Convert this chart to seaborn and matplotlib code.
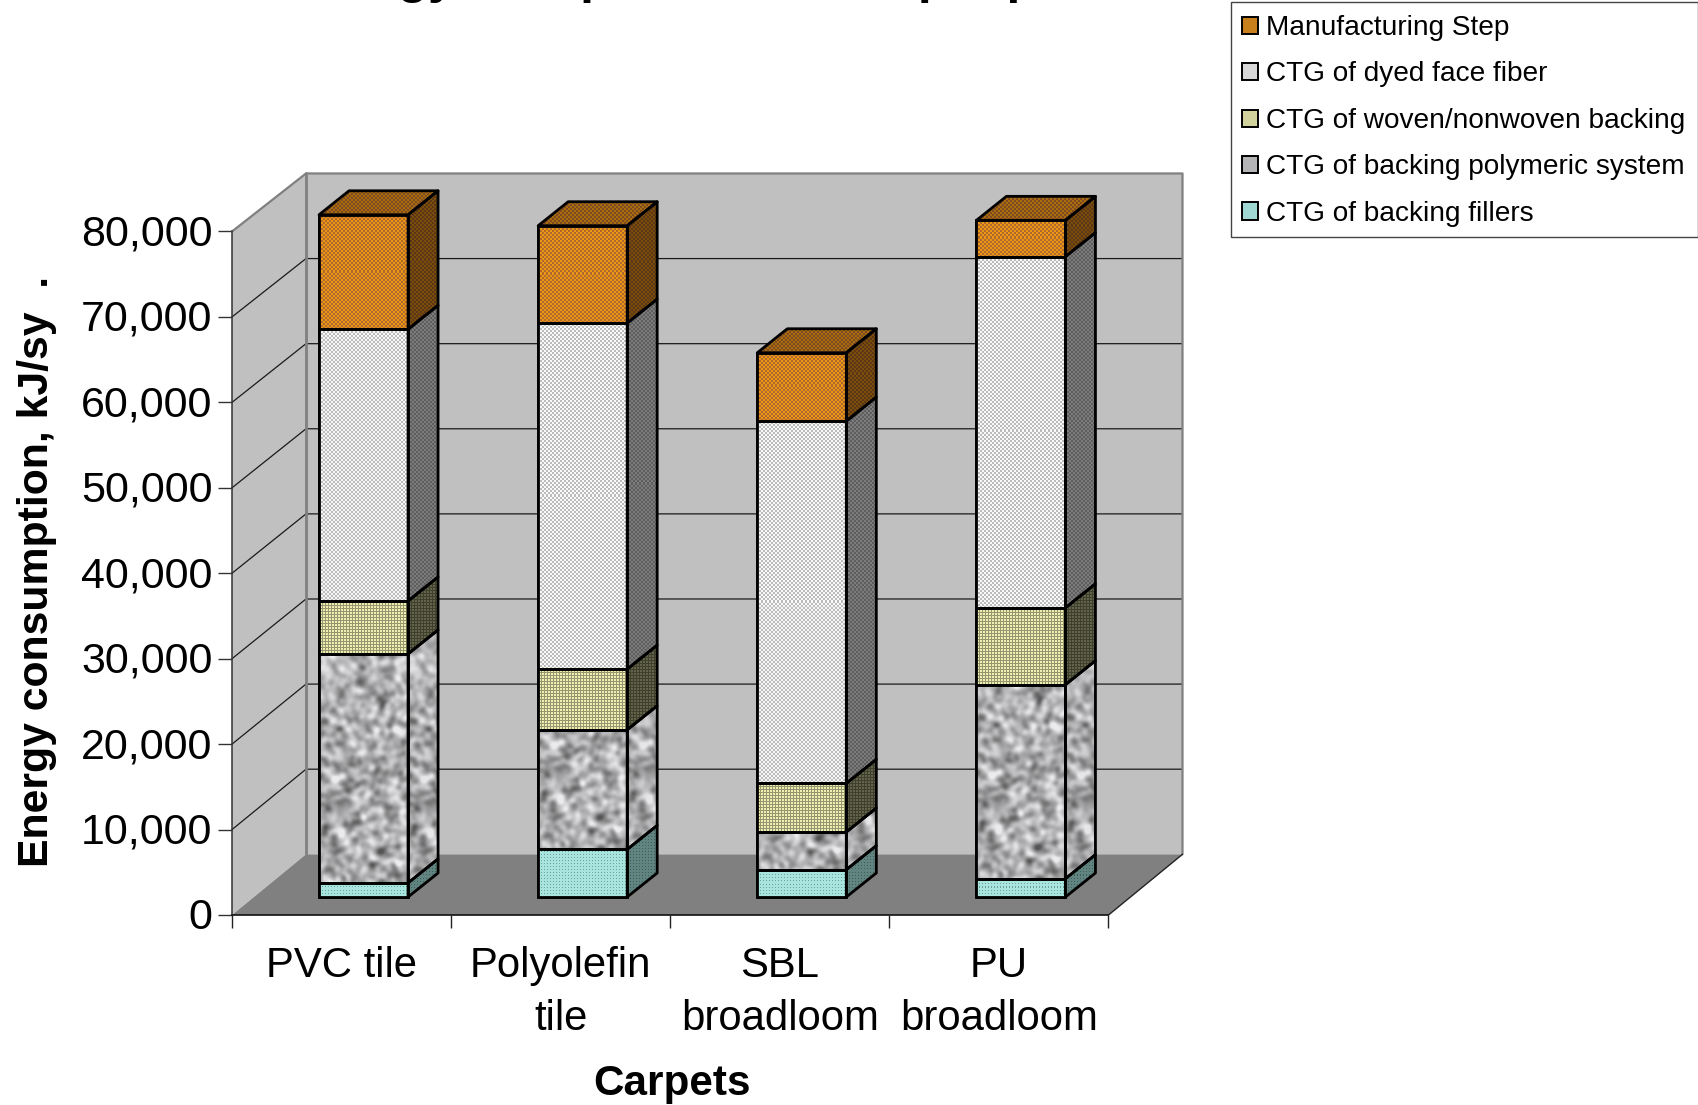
import numpy as np
import pandas as pd
import matplotlib
matplotlib.use("Agg")
import matplotlib.pyplot as plt
from matplotlib.patches import Polygon, Patch, Rectangle
from matplotlib.transforms import ScaledTranslation
import seaborn as sns

# ---------- data ----------
categories = ["PVC tile", "Polyolefin\ntile", "SBL\nbroadloom", "PU\nbroadloom"]
backing_fillers = [1650, 5570, 3200, 2150]
backing_polymeric = [26800, 14000, 4400, 22700]
woven_backing = [6200, 7100, 5700, 9000]
dyed_face_fiber = [31800, 40500, 42400, 41100]
manufacturing = [13400, 11400, 8000, 4250]
series_names = ["CTG of backing fillers", "CTG of backing polymeric system",
                "CTG of woven/nonwoven backing", "CTG of dyed face fiber",
                "Manufacturing Step"]
series_values = [backing_fillers, backing_polymeric, woven_backing,
                 dyed_face_fiber, manufacturing]
y_ticks = [0, 10000, 20000, 30000, 40000, 50000, 60000, 70000, 80000]

# ---------- layout constants (pixels of the reference) ----------
W, H = 1699, 1105
AX_L, AX_R, AX_T, AX_B = 232, 1108.5, 231.5, 915
PX_X = (AX_R - AX_L) / 4.0
PX_Y = (AX_B - AX_T) / 80000.0
WALL_DX = 74 / PX_X
WALL_Y0, WALL_SCALE = 60.7 / PX_Y, 0.9961
BAR_DX, BAR_DY = 30 / PX_X, 24 / PX_Y
FLOOR = 18 / PX_Y
BAR_W = 89 / PX_X
BAR_SHIFT = 22 / PX_X
EDGE = 2.0


def back(v):
    return WALL_Y0 + v * WALL_SCALE


sns.set_theme(style="white")
plt.rcParams["font.family"] = ["Liberation Sans", "DejaVu Sans"]
fig = plt.figure(figsize=(W / 100, H / 100), dpi=100, facecolor="white")
ax = fig.add_axes([AX_L / W, 1 - AX_B / H, (AX_R - AX_L) / W, (AX_B - AX_T) / H])
ax.patch.set_alpha(0)

df = pd.DataFrame({"cat": categories})


# ---------- textures ----------
def blur_noise(h, w, sigma):
    y, x = np.mgrid[:h, :w]
    n = np.sin(x * 12.9898 + y * 78.233 + (x * y) * 0.0137) * 43758.5453
    n = n - np.floor(n) - 0.5
    fy = np.fft.fftfreq(h)[:, None]
    fx = np.fft.fftfreq(w)[None, :]
    out = np.fft.ifft2(np.fft.fft2(n) * np.exp(-2 * (np.pi * sigma) ** 2 * (fx ** 2 + fy ** 2))).real
    return (out - out.mean()) / (out.std() + 1e-9)


def texture(kind, h, w, shade):
    h, w = max(h, 2), max(w, 2)
    y, x = np.mgrid[:h, :w]
    chk = ((x // 2 + y // 2) % 2)[..., None]
    if kind == "orange":
        a, b = np.array([235, 150, 20]), np.array([175, 105, 45])
        img = a * chk + b * (1 - chk)
    elif kind == "dyed":
        a, b = np.array([248, 248, 248]), np.array([188, 188, 188])
        img = a * chk + b * (1 - chk)
    elif kind == "woven":
        grid = (((x % 3) == 0) | ((y % 3) == 0))[..., None]
        a, b = np.array([238, 238, 178]), np.array([150, 150, 110])
        img = b * grid + a * (1 - grid)
    elif kind == "granite":
        z = blur_noise(h, w, 2.6)
        g = np.clip(174 + 27 * z, 85, 235)
        img = np.dstack([g, g, g * 1.01])
    else:  # teal
        dot = (((x % 3) == 0) & ((y % 3) == 0))[..., None]
        a, b = np.array([170, 228, 222]), np.array([105, 165, 160])
        img = b * dot + a * (1 - dot)
    return np.clip(img * shade, 0, 255).astype(np.uint8)


def textured(points, kind, shade, z):
    pts = np.array(points)
    x0, y0 = pts.min(axis=0)
    x1, y1 = pts.max(axis=0)
    w = int(round((x1 - x0) * PX_X))
    h = int(round((y1 - y0) * PX_Y))
    tex = texture(kind, h, w, shade)
    im = ax.imshow(tex, extent=(x0, x1, y0, y1), origin="lower", aspect="auto",
                   interpolation="nearest", zorder=z)
    poly = Polygon(points, closed=True, transform=ax.transData)
    im.set_clip_path(poly)
    im.set_clip_box(fig.bbox)
    ax.add_patch(Polygon(points, closed=True, fill=False, edgecolor="black",
                         linewidth=EDGE, clip_on=False, zorder=z + 0.5, joinstyle="round"))


# ---------- chart walls ----------
xl, xr = -0.5, 3.5
ax.add_patch(Polygon([(xl, 0), (xl + WALL_DX, back(0)), (xl + WALL_DX, back(80000)), (xl, 80000)],
                     closed=True, facecolor="#c0c0c0", edgecolor="none", clip_on=False, zorder=0.5))
ax.add_patch(Rectangle((xl + WALL_DX, back(0)), xr - xl, back(80000) - back(0), facecolor="#c0c0c0",
                       edgecolor="none", clip_on=False, zorder=0.5))
ax.add_patch(Polygon([(xl, 0), (xr, 0), (xr + WALL_DX, back(0)), (xl + WALL_DX, back(0))],
                     closed=True, facecolor="#808080", edgecolor="none", clip_on=False, zorder=0.6))
for v in y_ticks[1:-1]:
    ax.plot([xl, xl + WALL_DX, xr + WALL_DX], [v, back(v), back(v)], color="#1a1a1a",
            lw=0.9, clip_on=False, zorder=0.8)
# wall borders
ax.plot([xl, xl + WALL_DX, xr + WALL_DX, xr + WALL_DX],
        [80000, back(80000), back(80000), back(0)], color="#808080", lw=1.6, clip_on=False, zorder=0.9)
ax.plot([xl + WALL_DX, xl + WALL_DX], [back(0), back(80000)], color="#808080", lw=2.0,
        clip_on=False, zorder=0.9)
ax.plot([xr, xr + WALL_DX], [0, back(0)], color="#222222", lw=1.0, clip_on=False, zorder=0.9)

# ---------- stacked bars ----------
colors = ["#a0d8d4", "#b4b4b6", "#d2d29c", "#d8d8d8", "#c8801c"]
kinds = ["teal", "granite", "woven", "dyed", "orange"]
side_shade = [0.58, 0.98, 0.42, 0.5, 0.52]
bottom = np.zeros(len(categories))
for s, (name, vals) in enumerate(zip(series_names, series_values)):
    vals = np.array(vals, dtype=float)
    before = len(ax.patches)
    sns.barplot(data=df.assign(v=vals), x="cat", y="v", order=categories, color=colors[s],
                saturation=1, width=BAR_W, errorbar=None, bottom=bottom + FLOOR,
                edgecolor="black", linewidth=EDGE, ax=ax, zorder=3)
    for bar in ax.patches[before:]:
        bar.set_x(bar.get_x() + BAR_SHIFT)
        bar.set_clip_on(False)
    for bar in list(ax.patches[before:before + len(categories)]):
        x0, y0, bw, bh = bar.get_x(), bar.get_y(), bar.get_width(), bar.get_height()
        x1, y1 = x0 + bw, y0 + bh
        textured([(x0, y0), (x1, y0), (x1, y1), (x0, y1)], kinds[s], 1.0, 3.1)
        textured([(x1, y0), (x1 + BAR_DX, y0 + BAR_DY), (x1 + BAR_DX, y1 + BAR_DY), (x1, y1)],
                 kinds[s], side_shade[s], 3.1)
        if s == len(series_names) - 1:
            textured([(x0, y1), (x1, y1), (x1 + BAR_DX, y1 + BAR_DY), (x0 + BAR_DX, y1 + BAR_DY)],
                     kinds[s], 0.72, 3.1)
    bottom = bottom + vals

# ---------- axes ----------
ax.set_xlim(xl, xr)
ax.set_ylim(0, 80000)
for sp in ("top", "right"):
    ax.spines[sp].set_visible(False)
ax.spines["left"].set_color("#333333")
ax.spines["left"].set_linewidth(1.1)
ax.spines["bottom"].set_color("#111111")
ax.spines["bottom"].set_linewidth(1.2)
ax.spines["left"].set_zorder(1)
ax.spines["bottom"].set_zorder(1)
ax.set_yticks(y_ticks)
ax.set_yticklabels([f"{v:,}" for v in y_ticks], fontsize=31, color="black")
ax.tick_params(axis="y", left=True, length=10, width=1.0, color="#333333", pad=4)
up = ScaledTranslation(0, 1.5 / 100, fig.dpi_scale_trans)
for lab in ax.get_yticklabels():
    lab.set_transform(lab.get_transform() + up)
ax.set_xticks(range(len(categories)))
ax.set_xticklabels(categories, fontsize=30.2, color="black", linespacing=1.42)
ax.tick_params(axis="x", which="major", bottom=False, length=0, pad=22)
ax.set_xticks(np.arange(-0.5, 4), minor=True)
ax.tick_params(axis="x", which="minor", bottom=True, length=9.5, width=1.0, color="#222222")
ax.set_ylabel("Energy consumption, kJ/sy  .", fontsize=30.8, fontweight="bold", color="black")
ax.yaxis.set_label_coords((37 - AX_L) / (AX_R - AX_L), (AX_B - 571) / (AX_B - AX_T))
ax.yaxis.label.set_verticalalignment("center")
ax.set_xlabel("Carpets", fontsize=30.4, fontweight="bold", color="black")
ax.xaxis.set_label_coords((672 - AX_L) / (AX_R - AX_L), -(1084 - AX_B) / (AX_B - AX_T))
ax.xaxis.label.set_verticalalignment("center")

# ---------- title, cut by the top edge as in the reference ----------
fig.text(287 / W, 1 + 7 / H, "Energy Comparison of Carpet per", fontsize=35.8, fontweight="bold",
         ha="left", va="baseline", color="black")

# ---------- legend ----------
fig.add_artist(Rectangle((1231.5 / W, 1 - 237 / H), (1698 - 1231.5) / W, 235 / H, transform=fig.transFigure,
                         facecolor="white", edgecolor="#444444", linewidth=1.0))
handles = [Patch(facecolor=colors[i], edgecolor="black", linewidth=1.4, label=series_names[i])
           for i in range(4, -1, -1)]
leg = fig.legend(handles=handles, loc="upper left", bbox_to_anchor=(1242 / W, 1 - 15 / H), fontsize=20.2,
                 frameon=False, labelspacing=0.73, handlelength=0.56, handleheight=0.56,
                 handletextpad=0.30, borderaxespad=0, borderpad=0, labelcolor="black")

fig.savefig("out.png", dpi=100)
